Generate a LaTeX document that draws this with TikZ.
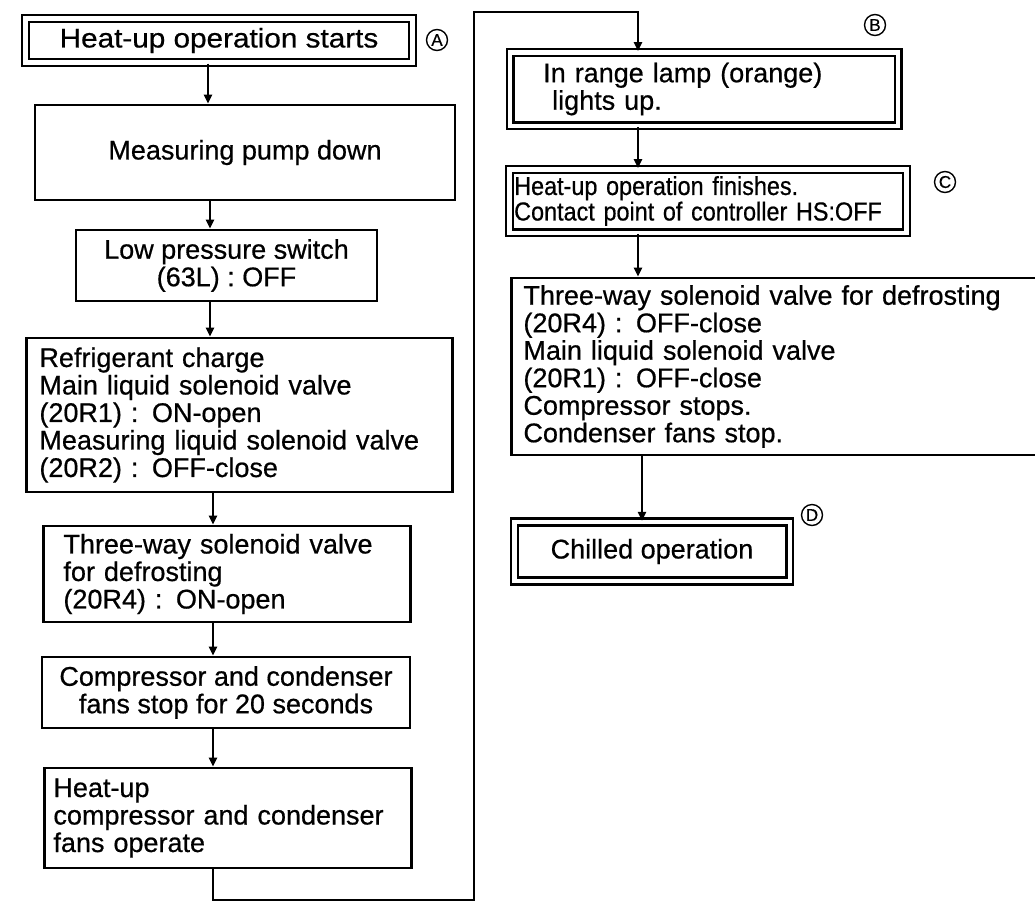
\documentclass[tikz,border=0pt]{standalone}
\usepackage{fontspec}
\setmainfont{Liberation Sans}
\newfontfamily\flowfont[FakeBold=0.6]{Liberation Sans}
\newfontfamily\wideflow[FakeBold=0.6,FakeStretch=1.1]{Liberation Sans}
\newfontfamily\narrowflow[FakeBold=0.6,FakeStretch=0.9]{Liberation Sans}
\usetikzlibrary{arrows.meta}

\tikzset{
  box/.style={draw, line width=2.9pt, rectangle, inner sep=0pt},
  dbox/.style={draw, double, line width=2.4pt, double distance=4.5pt, rectangle, inner sep=0pt},
  arr/.style={line width=2.5pt, -{Triangle[length=9pt,width=8pt]}},
  tag/.style={circle, draw, line width=1.4pt, inner sep=0.5pt, minimum size=21pt, font=\flowfont\fontsize{17}{17}\selectfont},
  every node/.style={font=\flowfont\fontsize{27}{27.5}\selectfont}
}

\begin{document}
\begin{tikzpicture}[x=1pt, y=-1pt]
\useasboundingbox (0,0) rectangle (1035,903);
\clip (0,0) rectangle (1035,903);

% left column
\node[dbox, minimum width=387pt, minimum height=44pt, align=center, font=\wideflow\fontsize{27}{27.5}\selectfont] (start) at (219,40.5) {Heat-up operation starts};
\node[tag] (tagA) at (437,40) {A};
\node[box, minimum width=420pt, minimum height=95pt, align=center] (pump) at (245,152.5) {Measuring pump down};
\node[box, minimum width=301pt, minimum height=71pt, align=center] (lowsw) at (226.5,265.5) {Low pressure switch\\(63L) : OFF};
\node[box, anchor=west, text width=400pt, inner xsep=13pt, minimum height=154pt, align=left] (charge) at (25,415)
  {Refrigerant charge\\Main liquid solenoid valve\\(20R1) : ON-open\\Measuring liquid solenoid valve\\(20R2) : OFF-close};
\node[box, anchor=west, text width=327pt, inner xsep=20pt, minimum height=96pt, align=left] (threeon) at (42,574)
  {Three-way solenoid valve\\for defrosting\\(20R4) : ON-open};
\node[box, minimum width=368pt, minimum height=71pt, align=center] (stop) at (226,692.5) {Compressor and condenser\\fans stop for 20 seconds};
\node[box, anchor=west, text width=349pt, inner xsep=9pt, minimum height=100pt, align=left] (heat) at (43,818)
  {Heat-up\\compressor and condenser\\fans operate};

% right column
\node[dbox, anchor=west, text width=322pt, inner xsep=33pt, minimum height=73.5pt, align=left] (lamp) at (509,89)
  {In range lamp (orange)\\\hspace*{9pt}lights up.};
\node[tag] (tagB) at (875,25) {B};
\node[dbox, anchor=west, text width=388pt, inner xsep=4.5pt, minimum height=63.5pt, align=left,
      font=\narrowflow\fontsize{26}{25.5}\selectfont] (finish) at (508.5,201)
  {Heat-up operation finishes.\\Contact point of controller HS:OFF};
\node[tag] (tagC) at (945,182) {C};
\node[box, anchor=west, text width=540pt, inner xsep=12pt, minimum height=177pt, align=left] (threeoff) at (510,366.5)
  {Three-way solenoid valve for defrosting\\(20R4) : OFF-close\\Main liquid solenoid valve\\(20R1) : OFF-close\\Compressor stops.\\Condenser fans stop.};
\node[dbox, minimum width=275.5pt, minimum height=59pt, align=center] (chilled) at (652,551.5) {Chilled operation};
\node[tag] (tagD) at (812,515) {D};

% flow lines
\coordinate (colA) at (208,0);
\coordinate (colL) at (210,0);
\coordinate (colM) at (213,0);
\coordinate (colR) at (638,0);
\coordinate (colD) at (642,0);
\coordinate (loopbot) at (474,900);
\coordinate (looptop) at (638,12);

\draw[arr] (start.south -| colA) -- (pump.north -| colA);
\draw[arr] (pump.south -| colL) -- (lowsw.north -| colL);
\draw[arr] (lowsw.south -| colL) -- (charge.north -| colL);
\draw[arr] (charge.south -| colM) -- (threeon.north -| colM);
\draw[arr] (threeon.south -| colM) -- (stop.north -| colM);
\draw[arr] (stop.south -| colM) -- (heat.north -| colM);
\draw[arr] (heat.south -| colM) |- (loopbot) |- (looptop) -- (lamp.north -| colR);
\draw[arr] (lamp.south -| colR) -- (finish.north -| colR);
\draw[arr] (finish.south -| colR) -- (threeoff.north -| colR);
\draw[arr] (threeoff.south -| colD) -- (chilled.north -| colD);
\end{tikzpicture}
\end{document}
